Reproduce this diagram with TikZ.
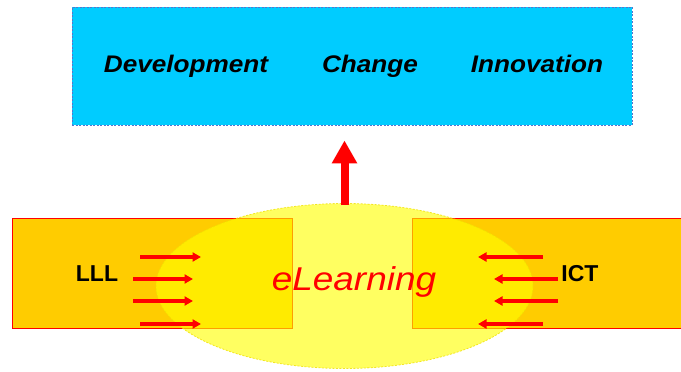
\documentclass[tikz,border=0pt]{standalone}
\usepackage{fontspec}
\setmainfont{Liberation Sans}
\usetikzlibrary{shapes.geometric,arrows.meta}
\definecolor{skyblue}{HTML}{00CCFF}
\definecolor{boxedge}{HTML}{5577CC}
\definecolor{barorange}{HTML}{FFCC00}
\definecolor{ellyellow}{HTML}{FFFF00}
\definecolor{elledge}{HTML}{F0E000}
\newcommand{\widen}[2]{\scalebox{#1}[1]{#2}}
\tikzset{
  topbox/.style={draw=boxedge, dashed, dash pattern=on 2pt off 1.5pt, line width=0.8pt, fill=skyblue,
    minimum width=560pt, minimum height=118pt, inner sep=0pt},
  topword/.style={font=\fontsize{24}{28}\selectfont\bfseries\itshape, inner sep=0pt, anchor=base},
  bar/.style={draw=red, line width=1pt, fill=barorange, minimum height=110pt, inner sep=0pt},
  cloud/.style={ellipse, fill=ellyellow, fill opacity=0.62, draw=elledge, draw opacity=0.8,
    dashed, dash pattern=on 2pt off 1.5pt, line width=0.8pt,
    minimum width=377pt, minimum height=165pt, inner sep=0pt},
  sidelabel/.style={font=\fontsize{23}{26}\selectfont\bfseries, inner sep=0pt, anchor=base},
  centrelabel/.style={font=\fontsize{33}{38}\selectfont\itshape, text=red, inner sep=0pt, anchor=base},
  smallarrow/.style={draw=red, line width=3.2pt, -{Triangle[length=8.5pt,width=9pt]}},
  bigarrow/.style={draw=red, line width=8pt, -{Triangle[length=23pt,width=24pt]}}
}
\begin{document}
\begin{tikzpicture}[x=1pt,y=-1pt]
\useasboundingbox (0,0) rectangle (681,372);
% top box
\node[topbox] (top) at (352,66) {};
\node[topword] (dev) at (186,72) {\widen{1.09}{Development}};
\node[topword] (chg) at (370,72) {\widen{1.09}{Change}};
\node[topword] (inn) at (537,72) {\widen{1.09}{Innovation}};
% bars
\node[bar, minimum width=280pt] (lbar) at (152,273) {};
\node[bar, minimum width=274pt] (rbar) at (549,273) {};
% ellipse
\node[cloud] (ell) at (344.5,286) {};
% labels
\node[sidelabel] (lll) at (97,281) {LLL};
\node[sidelabel] (ict) at (580,281) {ICT};
\node[centrelabel] (el) at (354,290) {\widen{1.12}{eLearning}};
% small arrows left
\coordinate (la1s) at (140,257); \coordinate (la1e) at (201,257);
\coordinate (la2s) at (133,279); \coordinate (la2e) at (193,279);
\coordinate (la3s) at (133,301); \coordinate (la3e) at (193,301);
\coordinate (la4s) at (140,324); \coordinate (la4e) at (201,324);
\draw[smallarrow] (la1s) -- (la1e);
\draw[smallarrow] (la2s) -- (la2e);
\draw[smallarrow] (la3s) -- (la3e);
\draw[smallarrow] (la4s) -- (la4e);
% small arrows right
\coordinate (ra1s) at (543,257); \coordinate (ra1e) at (478,257);
\coordinate (ra2s) at (558,279); \coordinate (ra2e) at (494,279);
\coordinate (ra3s) at (558,301); \coordinate (ra3e) at (494,301);
\coordinate (ra4s) at (543,324); \coordinate (ra4e) at (478,324);
\draw[smallarrow] (ra1s) -- (ra1e);
\draw[smallarrow] (ra2s) -- (ra2e);
\draw[smallarrow] (ra3s) -- (ra3e);
\draw[smallarrow] (ra4s) -- (ra4e);
% big arrow
\draw[bigarrow, shorten >=15pt] ([yshift=-2pt]ell.north) -- (ell.north |- top.south);
\end{tikzpicture}
\end{document}
